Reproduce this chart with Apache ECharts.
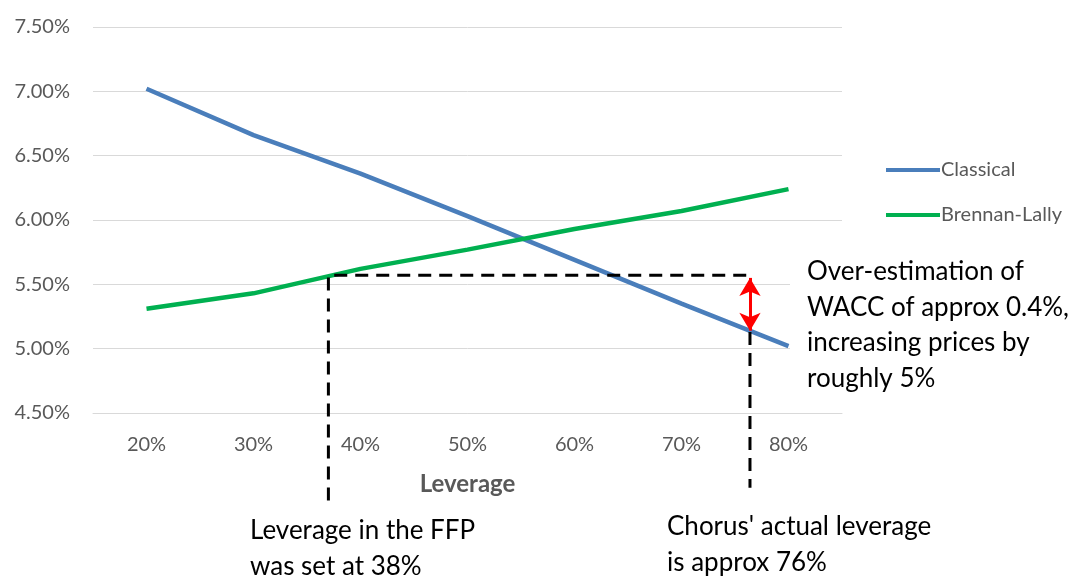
<!DOCTYPE html>
<html>
<head>
<meta charset="utf-8">
<style>
  html, body { margin: 0; padding: 0; background: #fff; }
  #chart { width: 1074px; height: 581px; }
</style>
<script src="https://cdn.jsdelivr.net/npm/echarts@6/dist/echarts.min.js"></script>
</head>
<body>
<div id="chart"></div>
<script>
// leverage (%) on the x axis, WACC (%) on the y axis
const leverage = [20, 30, 40, 50, 60, 70, 80]
const classical = [7.02, 6.66, 6.36, 6.03, 5.69, 5.35, 5.02]
const brennanLally = [5.31, 5.43, 5.62, 5.77, 5.93, 6.07, 6.24]

// annotation guides
const ffpLeverage = 37
const actualLeverage = 76.4
const ffpWacc = 5.57
const actualWacc = 5.13
const leftGuideEnd = 3.82
const rightGuideEnd = 3.92

const FONT = 'Lato'
const GREY = '#595959'

const toPairs = (xs, ys) => xs.map((x, i) => [x, ys[i]])

const chart = echarts.init(document.getElementById('chart'))

const option = {
  animation: false,
  textStyle: { fontFamily: FONT },
  grid: { left: 93, right: 232, top: 27, bottom: 168 },
  legend: {
    data: ['Classical', 'Brennan-Lally'],
    orient: 'vertical',
    left: 881,
    top: 154,
    itemWidth: 54,
    itemHeight: 4,
    itemGap: 23,
    icon: 'rect',
    textStyle: { color: GREY, fontSize: 20, lineHeight: 22, fontFamily: FONT, padding: [0, 0, 0, -4] }
  },
  xAxis: {
    type: 'value',
    min: 15,
    max: 85,
    name: 'Leverage',
    nameLocation: 'middle',
    nameGap: 59,
    nameTextStyle: { color: GREY, fontSize: 24, fontWeight: 'bold', fontFamily: FONT },
    axisLine: { show: true, lineStyle: { color: '#d9d9d9' } },
    axisTick: { show: false },
    splitLine: { show: false },
    axisLabel: {
      customValues: leverage,
      color: GREY,
      fontSize: 20,
      margin: 22,
      formatter: v => v + '%'
    }
  },
  yAxis: {
    type: 'value',
    min: 4.5,
    max: 7.5,
    interval: 0.5,
    axisLine: { show: false },
    axisTick: { show: false },
    splitLine: { lineStyle: { color: '#d9d9d9', width: 1 } },
    axisLabel: {
      color: GREY,
      fontSize: 20,
      margin: 23,
      formatter: v => v.toFixed(2) + '%'
    }
  },
  series: [
    {
      name: 'Classical',
      type: 'line',
      data: toPairs(leverage, classical),
      symbol: 'none',
      lineStyle: { width: 4.5, color: '#4a7ebb' },
      itemStyle: { color: '#4a7ebb' },
      z: 3
    },
    {
      name: 'Brennan-Lally',
      type: 'line',
      data: toPairs(leverage, brennanLally),
      symbol: 'none',
      lineStyle: { width: 4.5, color: '#00b050' },
      itemStyle: { color: '#00b050' },
      z: 3
    },
    {
      name: 'ffp-guide',
      type: 'line',
      data: [[ffpLeverage, leftGuideEnd], [ffpLeverage, ffpWacc], [actualLeverage, ffpWacc]],
      symbol: 'none',
      clip: false,
      silent: true,
      lineStyle: { width: 3, color: '#000', type: [13, 8] },
      z: 4
    },
    {
      name: 'actual-guide',
      type: 'line',
      data: [[actualLeverage, actualWacc], [actualLeverage, rightGuideEnd]],
      symbol: 'none',
      clip: false,
      silent: true,
      lineStyle: { width: 3, color: '#000', type: [13, 8] },
      z: 4,
      markLine: {
        silent: true,
        symbol: ['arrow', 'arrow'],
        symbolSize: [16, 18],
        label: { show: false },
        lineStyle: { color: '#ff0000', width: 3, type: 'solid' },
        data: [[{ coord: [actualLeverage, ffpWacc - 0.02] }, { coord: [actualLeverage, actualWacc + 0.01] }]]
      }
    }
  ],
  graphic: [
    {
      type: 'rect',
      left: 790,
      top: 250,
      shape: { width: 284, height: 150 },
      style: { fill: '#fff' },
      z: 1
    },
    {
      type: 'text',
      left: 807,
      top: 254,
      z: 10,
      style: {
        text: 'Over-estimation of\nWACC of approx 0.4%,\nincreasing prices by\nroughly 5%',
        font: '26px ' + FONT,
        fill: '#000',
        lineHeight: 35.5
      }
    },
    {
      type: 'text',
      left: 250,
      top: 513,
      z: 10,
      style: {
        text: 'Leverage in the FFP\nwas set at 38%',
        font: '26px ' + FONT,
        fill: '#000',
        lineHeight: 36
      }
    },
    {
      type: 'text',
      left: 667,
      top: 509,
      z: 10,
      style: {
        text: "Chorus' actual leverage\nis approx 76%",
        font: '26px ' + FONT,
        fill: '#000',
        lineHeight: 36
      }
    }
  ]
}

chart.setOption(option)
window.addEventListener('resize', () => chart.resize())
</script>
</body>
</html>
